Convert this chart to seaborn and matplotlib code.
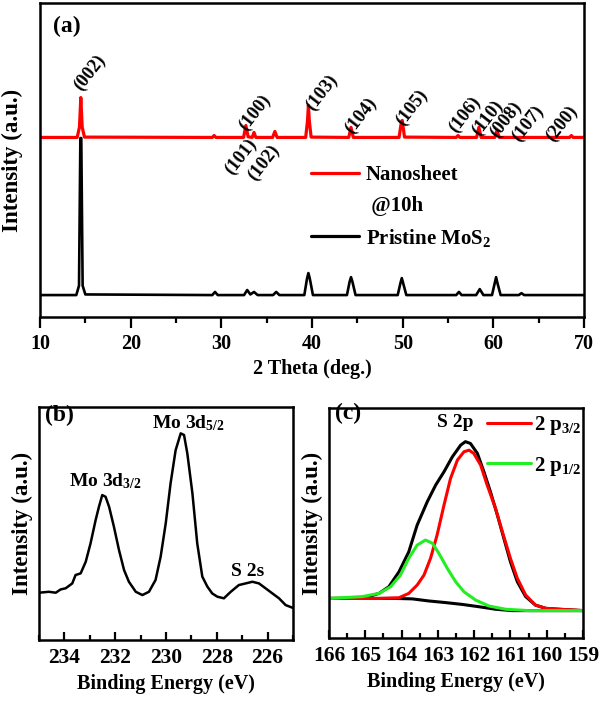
import numpy as np
import pandas as pd
import matplotlib
matplotlib.use('Agg')
import matplotlib.pyplot as plt
from matplotlib.lines import Line2D
from matplotlib.ticker import MultipleLocator
import seaborn as sns

# ---- (a) XRD ----
black_theta = [10.0, 14.0, 14.3, 14.45, 14.55, 14.7, 15.0, 29.0, 29.3, 29.6,
               32.5, 32.85, 33.2, 33.6, 34.0, 35.7, 36.05, 36.4,
               39.15, 39.45, 39.6, 39.75, 40.1, 43.85, 44.15, 44.3, 44.45, 44.8,
               49.45, 49.75, 49.9, 50.05, 50.4, 55.9, 56.2, 56.5, 58.1, 58.5, 58.9,
               59.85, 60.15, 60.3, 60.45, 60.8, 62.8, 63.1, 63.4, 70.0]
black_int = [7.0, 7.0, 10.0, 57.0, 57.0, 10.0, 7.2, 7.0, 8.0, 7.0,
             7.0, 8.6, 7.2, 8.0, 7.0, 7.0, 8.0, 7.0,
             7.0, 12.3, 14.0, 12.3, 7.0, 7.0, 11.3, 12.7, 11.3, 7.0,
             7.0, 10.8, 12.4, 10.8, 7.0, 7.0, 8.0, 7.0, 7.0, 8.9, 7.0,
             7.0, 10.8, 12.7, 10.8, 7.0, 7.0, 7.6, 7.0, 7.0]

red_theta = [10.0, 14.1, 14.35, 14.5, 14.65, 14.9, 29.0, 29.2, 29.4,
             32.45, 32.7, 32.95, 33.4, 33.6, 33.8, 35.65, 35.9, 36.15,
             39.3, 39.5, 39.6, 39.7, 39.9, 44.05, 44.3, 44.55,
             49.6, 49.85, 49.95, 50.2, 55.9, 56.1, 56.3, 58.15, 58.4, 58.65,
             60.15, 60.4, 60.65, 68.4, 68.6, 68.8, 70.0]
red_int = [57.2, 57.2, 60.5, 69.9, 60.5, 57.3, 57.2, 57.8, 57.2,
           57.2, 61.0, 57.4, 57.2, 58.8, 57.2, 57.2, 59.1, 57.2,
           57.2, 62.5, 67.4, 62.5, 57.3, 57.2, 60.4, 57.2,
           57.2, 62.0, 62.6, 57.3, 57.2, 57.8, 57.2, 57.2, 60.4, 57.2,
           57.2, 59.4, 57.2, 57.2, 57.8, 57.2, 57.2]

hkl_labels = ['(002)', '(100)', '(101)', '(102)', '(103)', '(104)', '(105)',
              '(106)', '(110)', '(008)', '(107)', '(200)']
hkl_x = [15.5, 33.7, 32.1, 34.7, 41.1, 45.4, 51.0, 56.9, 59.4, 61.4, 63.8, 67.5]
hkl_y = [77.7, 65.0, 51.0, 49.0, 71.3, 64.0, 66.6, 64.6, 63.4, 62.7, 61.5, 61.5]

# ---- (b) Mo 3d XPS ----
mo_be = [235.0, 234.61, 234.34, 234.15, 233.95, 233.69, 233.56, 233.36, 233.16,
         232.97, 232.77, 232.64, 232.51, 232.38, 232.24, 232.05, 231.85, 231.65,
         231.46, 231.19, 230.93, 230.67, 230.41, 230.21, 230.01, 229.82, 229.62,
         229.42, 229.29, 229.16, 228.96, 228.77, 228.57, 228.37, 228.18, 227.98,
         227.72, 227.45, 227.13, 226.86, 226.60, 226.34, 226.08, 225.81, 225.55,
         225.29, 224.96]
mo_int = [20.3, 20.7, 20.3, 21.7, 22.2, 24.3, 27.9, 28.6, 33.6,
          41.5, 51.5, 57.2, 62.2, 61.5, 57.2, 48.6, 38.6, 30.0,
          25.0, 20.7, 19.3, 20.7, 25.8, 35.8, 50.1, 67.2, 81.5,
          88.7, 88.0, 80.1, 63.0, 41.5, 27.2, 22.9, 20.0, 18.6,
          17.9, 20.7, 23.6, 24.3, 25.0, 24.3, 22.2, 20.0, 17.9,
          15.0, 13.6]

# ---- (c) S 2p XPS ----
env_be = [166.0, 165.08, 164.62, 164.35, 164.07, 163.80, 163.57, 163.29, 163.06,
          162.83, 162.60, 162.37, 162.24, 162.10, 161.91, 161.73, 161.55, 161.36,
          161.18, 161.00, 160.81, 160.58, 160.31, 160.03, 159.66, 158.98]
env_int = [17.2, 17.2, 19.4, 22.3, 28.8, 37.5, 49.1, 59.3, 66.5,
           72.3, 78.8, 83.9, 85.4, 84.6, 80.3, 72.3, 63.6, 53.5,
           43.3, 33.2, 24.5, 18.0, 14.3, 12.9, 12.5, 11.9]
p32_be = [166.0, 164.62, 164.07, 163.80, 163.57, 163.38, 163.20, 163.02, 162.83,
          162.65, 162.46, 162.28, 162.14, 162.01, 161.82, 161.64, 161.41, 161.22,
          161.00, 160.81, 160.58, 160.31, 160.03, 159.66, 158.98]
p32_int = [17.2, 17.2, 17.5, 19.4, 23.0, 27.4, 34.7, 44.8, 57.8,
           69.4, 77.4, 81.0, 81.7, 80.3, 75.2, 66.5, 56.4, 46.2,
           34.7, 26.0, 18.7, 14.3, 12.9, 12.5, 11.9]
p12_be = [166.0, 165.08, 164.62, 164.30, 164.03, 163.80, 163.57, 163.34, 163.15,
          162.97, 162.74, 162.51, 162.28, 161.96, 161.59, 161.13, 160.49, 158.98]
p12_int = [17.2, 18.0, 19.4, 22.3, 27.4, 34.7, 40.4, 42.6, 41.2,
           36.8, 30.3, 24.5, 20.1, 16.5, 13.9, 12.5, 11.9, 11.9]
bg_be = [166.0, 164.16, 163.70, 163.25, 162.79, 162.33, 161.87, 161.41, 160.95, 158.98]
bg_int = [17.2, 17.2, 17.0, 16.1, 15.4, 14.6, 13.6, 12.5, 11.9, 11.9]

sns.set_style('white')
plt.rcParams['font.family'] = ['Liberation Serif', 'DejaVu Serif']
plt.rcParams['font.weight'] = 'bold'
plt.rcParams['axes.labelweight'] = 'bold'
plt.rcParams['text.color'] = 'black'
plt.rcParams['axes.labelcolor'] = 'black'
plt.rcParams['xtick.color'] = 'black'
plt.rcParams['mathtext.fontset'] = 'custom'
plt.rcParams['mathtext.rm'] = 'Liberation Serif:bold'
plt.rcParams['mathtext.it'] = 'Liberation Serif:italic:bold'
plt.rcParams['mathtext.bf'] = 'Liberation Serif:bold'

RED = '#ff0000'
GREEN = '#22ee22'

fig = plt.figure(figsize=(6, 7.03), dpi=100)
ax_a = fig.add_axes([0.0667, 0.549, 0.9067, 0.4467])
ax_b = fig.add_axes([0.065, 0.0896, 0.4233, 0.3314])
ax_c = fig.add_axes([0.5483, 0.0925, 0.4233, 0.327])

for ax in (ax_a, ax_b, ax_c):
    for s in ax.spines.values():
        s.set_linewidth(1.8)
        s.set_color('black')

# (a)
df_black = pd.DataFrame({'theta': black_theta, 'I': black_int})
df_red = pd.DataFrame({'theta': red_theta, 'I': red_int})
sns.lineplot(data=df_black, x='theta', y='I', color='black', lw=1.9,
             estimator=None, ax=ax_a)
sns.lineplot(data=df_red, x='theta', y='I', color=RED, lw=2.3,
             estimator=None, ax=ax_a)
ax_a.set_xlim(10, 70)
ax_a.set_ylim(0, 100)
ax_a.xaxis.set_major_locator(MultipleLocator(10))
ax_a.xaxis.set_minor_locator(MultipleLocator(5))
ax_a.tick_params(axis='x', which='major', direction='out', length=8, width=1.6,
                 labelsize=14.5, bottom=True, pad=4)
ax_a.tick_params(axis='x', which='minor', direction='out', length=4.5, width=1.6,
                 bottom=True)
ax_a.set_xlabel('2 Theta (deg.)', fontsize=14.5, labelpad=4)
for lab, x, y in zip(hkl_labels, hkl_x, hkl_y):
    ax_a.text(x, y, lab, rotation=52, ha='center', va='center', fontsize=13.5)
ax_a.text(0.024, 0.924, '(a)', transform=ax_a.transAxes, fontsize=17,
          ha='left', va='center')
leg_handles = [Line2D([], [], color=RED, lw=2.3),
               Line2D([], [], color='none'),
               Line2D([], [], color='black', lw=2.3)]
ax_a.legend(leg_handles, ['Nanosheet', ' @10h', 'Pristine MoS$_2$'],
            loc='upper left', bbox_to_anchor=(0.499, 0.484), frameon=False,
            fontsize=15, handlelength=2.3, handletextpad=0.3,
            labelspacing=0.52, borderpad=0, borderaxespad=0)

# (b)
df_mo = pd.DataFrame({'BE': mo_be, 'I': mo_int})
sns.lineplot(data=df_mo, x='BE', y='I', color='black', lw=1.8,
             estimator=None, ax=ax_b)
ax_b.set_xlim(235, 225)
ax_b.set_ylim(0, 100)
ax_b.xaxis.set_major_locator(MultipleLocator(2))
ax_b.xaxis.set_minor_locator(MultipleLocator(1))
ax_b.tick_params(axis='x', which='major', direction='in', length=6, width=1.6,
                 labelsize=15.5, bottom=True, pad=6)
ax_b.tick_params(axis='x', which='minor', direction='in', length=3.5, width=1.6,
                 bottom=True)
ax_b.set_xlabel('Binding Energy (eV)', fontsize=14.5)
ax_b.text(232.4, 68.2, r'Mo 3d$_{3/2}$', ha='center', va='center', fontsize=14)
ax_b.text(229.13, 93.1, r'Mo 3d$_{5/2}$', ha='center', va='center', fontsize=14)
ax_b.text(226.77, 29.6, 'S 2s', ha='center', va='center', fontsize=14)
ax_b.text(0.024, 0.966, '(b)', transform=ax_b.transAxes, fontsize=17,
          ha='left', va='center')

# (c)
df_env = pd.DataFrame({'BE': env_be, 'I': env_int})
df_bg = pd.DataFrame({'BE': bg_be, 'I': bg_int})
df_p32 = pd.DataFrame({'BE': p32_be, 'I': p32_int})
df_p12 = pd.DataFrame({'BE': p12_be, 'I': p12_int})
sns.lineplot(data=df_env, x='BE', y='I', color='black', lw=2.2,
             estimator=None, ax=ax_c)
sns.lineplot(data=df_bg, x='BE', y='I', color='black', lw=2.2,
             estimator=None, ax=ax_c)
sns.lineplot(data=df_p32, x='BE', y='I', color=RED, lw=2.2,
             estimator=None, ax=ax_c)
sns.lineplot(data=df_p12, x='BE', y='I', color=GREEN, lw=2.2,
             estimator=None, ax=ax_c)
ax_c.set_xlim(166, 159)
ax_c.set_ylim(0, 100)
ax_c.xaxis.set_major_locator(MultipleLocator(1))
ax_c.xaxis.set_minor_locator(MultipleLocator(0.5))
ax_c.tick_params(axis='x', which='major', direction='in', length=6, width=1.6,
                 labelsize=15.5, bottom=True, pad=6)
ax_c.tick_params(axis='x', which='minor', direction='in', length=3.5, width=1.6,
                 bottom=True)
ax_c.set_xlabel('Binding Energy (eV)', fontsize=14.5)
ax_c.text(162.53, 93.9, 'S 2p', ha='center', va='center', fontsize=14)
ax_c.text(0.024, 0.978, '(c)', transform=ax_c.transAxes, fontsize=17,
          ha='left', va='center')
ax_c.legend([Line2D([], [], color=RED, lw=2.2), Line2D([], [], color=GREEN, lw=2.2)],
            [r'2 p$_{3/2}$', r'2 p$_{1/2}$'], loc='upper left',
            bbox_to_anchor=(0.622, 0.975), frameon=False, fontsize=15,
            handlelength=2.1, handletextpad=0.15, labelspacing=0.85,
            borderpad=0, borderaxespad=0)

# y axes: no ticks, label only
for ax, xc in ((ax_a, -0.031), (ax_b, -0.024), (ax_c, -0.024)):
    ax.set_yticks([])
    ax.set_ylabel('Intensity (a.u.)', fontsize=16.5)
    ax.yaxis.set_label_coords(xc, 0.5)

fig.savefig('out.png', dpi=100)
